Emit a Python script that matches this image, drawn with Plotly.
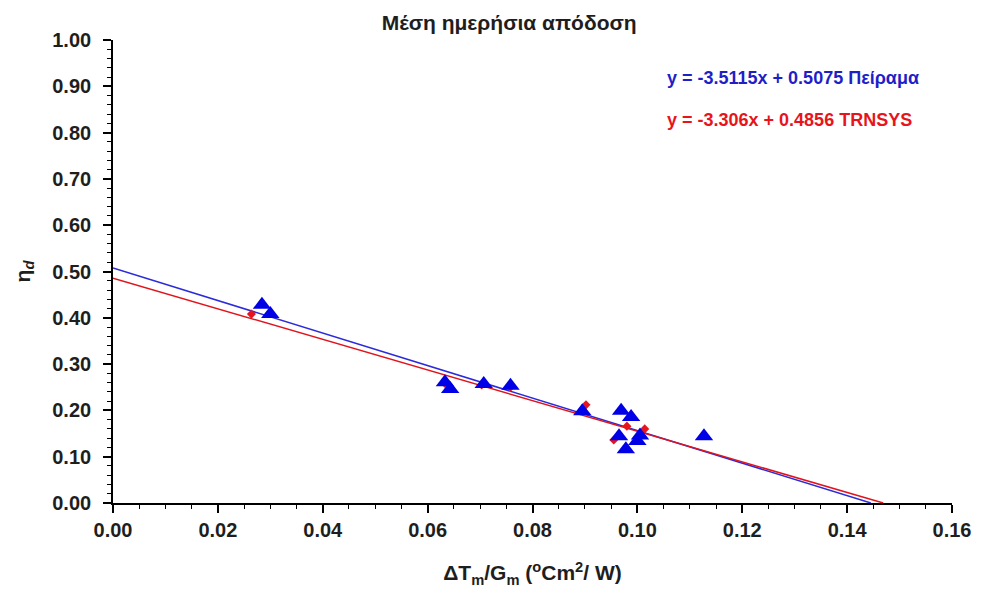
import plotly.graph_objects as go

# Experimental (Πείραμα) points
exp_x = [0.0284, 0.0300, 0.0633, 0.0643, 0.0707, 0.0758, 0.0895, 0.0969, 0.0988,
         0.0965, 0.0978, 0.1000, 0.1005, 0.1127]
exp_y = [0.428, 0.408, 0.261, 0.246, 0.257, 0.253, 0.198, 0.199, 0.186,
         0.144, 0.116, 0.134, 0.146, 0.144]

# TRNSYS points
trn_x = [0.0264, 0.0633, 0.0703, 0.0758, 0.0902, 0.0955, 0.0980, 0.1014]
trn_y = [0.408, 0.258, 0.255, 0.250, 0.212, 0.136, 0.166, 0.160]

# Trendline coefficients (slope, intercept)
exp_fit = (-3.5115, 0.5075)
trn_fit = (-3.306, 0.4856)

title = "Μέση ημερήσια απόδοση"
eq_exp = "y = -3.5115x + 0.5075 Πείραμα"
eq_trn = "y = -3.306x + 0.4856 TRNSYS"

BLUE = "#0000e6"
RED = "#e8141c"
FONT = "Liberation Sans, Arial, sans-serif"
TXT = "#1e1e1e"

def fit_line(coef):
    m, b = coef
    x0 = 0.0
    x1 = -b / m
    return [x0, x1], [m * x0 + b, m * x1 + b]

fig = go.Figure()
lx, ly = fit_line(exp_fit)
fig.add_trace(go.Scatter(x=lx, y=ly, mode="lines", line=dict(color="#2b2bd9", width=1.5),
                         showlegend=False, hoverinfo="skip"))
lx, ly = fit_line(trn_fit)
fig.add_trace(go.Scatter(x=lx, y=ly, mode="lines", line=dict(color="#e0141c", width=1.5),
                         showlegend=False, hoverinfo="skip"))
fig.add_trace(go.Scatter(x=trn_x, y=trn_y, mode="markers",
                         marker=dict(symbol="diamond", size=7, color=RED),
                         showlegend=False))
fig.add_trace(go.Scatter(x=exp_x, y=exp_y, mode="markers",
                         marker=dict(symbol="triangle-up", size=16, color=BLUE),
                         showlegend=False))

axis_common = dict(
    showgrid=False, zeroline=False, showline=True, linecolor="black", linewidth=1.6,
    ticks="outside", ticklen=8, tickwidth=1.6, tickcolor="black",
    tickfont=dict(family=FONT, size=20, color=TXT, weight="bold"),
    tickformat=".2f",
)

fig.update_xaxes(range=[0, 0.16], dtick=0.02, tick0=0,
                 minor=dict(dtick=0.005, ticks="outside", ticklen=4, tickwidth=1.2, tickcolor="black"),
                 title=dict(text="ΔT<sub>m</sub>/G<sub>m</sub> (<sup>o</sup>Cm<sup>2</sup>/ W)",
                            font=dict(family=FONT, size=21, color=TXT, weight="bold"), standoff=26),
                 **axis_common)
fig.update_yaxes(range=[0, 1.0], dtick=0.1, tick0=0,
                 minor=dict(dtick=0.02, ticks="outside", ticklen=4, tickwidth=1.2, tickcolor="black"),
                 ticklabelstandoff=8,
                 title=dict(text="η<i><sub>d</sub></i>",
                            font=dict(family=FONT, size=21, color=TXT, weight="bold"), standoff=16),
                 **axis_common)

fig.add_annotation(x=0.6576, y=0.918, xref="paper", yref="paper", xanchor="left", yanchor="middle",
                   text=eq_exp, showarrow=False,
                   font=dict(family=FONT, size=18, color="#1f1fc8", weight="bold"))
fig.add_annotation(x=0.6576, y=0.827, xref="paper", yref="paper", xanchor="left", yanchor="middle",
                   text=eq_trn, showarrow=False,
                   font=dict(family=FONT, size=18, color=RED, weight="bold"))

fig.update_layout(
    width=983, height=596,
    margin=dict(l=113, r=24, t=40, b=93),
    plot_bgcolor="white", paper_bgcolor="white",
    title=dict(text=title, x=0.518, xanchor="center", y=0.962, yanchor="middle",
               font=dict(family=FONT, size=21, color=TXT, weight="bold")),
)

fig.write_html("out.html")
